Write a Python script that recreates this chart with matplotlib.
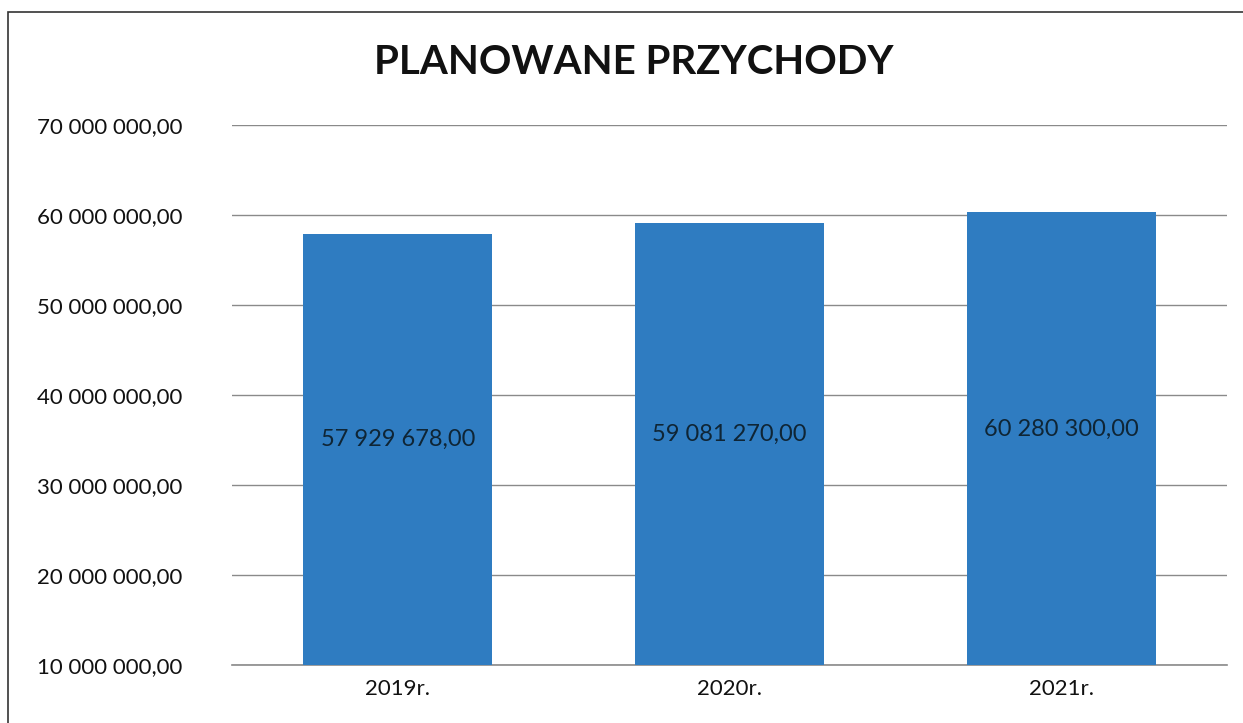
import matplotlib
matplotlib.use("Agg")
import matplotlib.pyplot as plt
from matplotlib.patches import Rectangle
from matplotlib.ticker import FuncFormatter

categories = ["2019r.", "2020r.", "2021r."]
values = [57929678.00, 59081270.00, 60280300.00]
y_ticks = [10000000, 20000000, 30000000, 40000000, 50000000, 60000000, 70000000]
title = "PLANOWANE PRZYCHODY"

def fmt(v):
    s = f"{v:,.2f}"
    return s.replace(",", " ").replace(".", ",")

plt.rcParams['font.family'] = ['Lato', 'DejaVu Sans']

W, H = 1243, 723
fig = plt.figure(figsize=(W/100, H/100), dpi=100)
fig.patch.set_facecolor("white")

ax = fig.add_axes([232/W, 58/H, 995/W, 540/H])
ymin = y_ticks[0]
x = range(len(categories))
bars = ax.bar(x, [v - ymin for v in values], bottom=ymin, width=0.57,
              color="#2f7cc1", zorder=3)
ax.set_xlim(-0.5, len(categories) - 0.5)
ax.set_ylim(y_ticks[0], y_ticks[-1])
ax.set_yticks(y_ticks)
ax.yaxis.set_major_formatter(FuncFormatter(lambda v, p: fmt(v)))
ax.set_xticks(list(x))
ax.set_xticklabels(categories)
ax.tick_params(axis='y', length=0, pad=36, labelsize=16, labelcolor="#111111")
ax.tick_params(axis='x', length=0, pad=10, labelsize=16, labelcolor="#111111")
for s in ax.spines.values():
    s.set_visible(False)
ax.grid(axis='y', color="#8a8a8a", linewidth=1.0, zorder=1)
ax.set_axisbelow(True)
ax.axhline(ymin, color="#8a8a8a", linewidth=1.2, clip_on=False, zorder=2)

for i, v in enumerate(values):
    center = (ymin + v) / 2
    ax.annotate(fmt(v), (i, center), xytext=(0, 7), textcoords="offset points",
                ha="center", va="center", fontsize=17, color="#0f2535", zorder=4)

fig.text(634/W, 1 - 63/H, title, ha="center", va="center",
         fontsize=29, fontweight="bold", color="#111111")

fig.patches.append(Rectangle((8/W, -0.1), 1.2, 1 - 12/H + 0.1,
                             transform=fig.transFigure, fill=False,
                             edgecolor="#333333", linewidth=1.2))

fig.savefig("out.png", dpi=100)
